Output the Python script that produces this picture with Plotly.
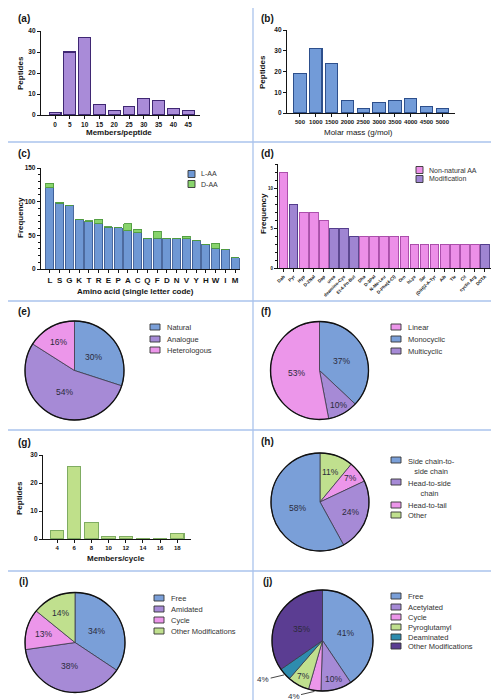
import math
import plotly.graph_objects as go

W, H = 499, 700

# ---------------- data ----------------
a_members = ["0", "5", "10", "15", "20", "25", "30", "35", "40", "45"]
a_peptides = [1, 30, 37, 5, 2, 4, 8, 7, 3, 2]

b_mass = ["500", "1000", "1500", "2000", "2500", "3000", "3500", "4000", "4500", "5000"]
b_peptides = [19, 31, 24, 6, 2, 5, 6, 7, 3, 2]

c_aa = ["L", "S", "G", "K", "T", "R", "E", "P", "A", "C", "Q", "F", "D", "N", "V", "Y", "H", "W", "I", "M"]
c_laa = [121, 98, 95, 73, 70, 67, 62, 61, 57, 54, 46, 46, 45, 45, 45, 42, 37, 31, 29, 17]
c_daa = [6, 1, 0, 1, 2, 7, 1, 0, 10, 5, 0, 10, 1, 1, 4, 1, 0, 7, 0, 0]

d_names = ["Dab", "Pyr", "Hyp", "D-2Nal", "Dap", "urea", "deamino-Cys", "Et-4-Pn-But",
           "Dha", "D-3Pal", "N-Me-Leu", "D-Phe(4-Cl)", "Orn", "hLys", "Sar", "(DIH)2-A-Tyr",
           "Aib", "Tle", "Cit", "cyclic Arg", "DOTA"]
d_freq = [12, 8, 7, 7, 6, 5, 5, 4, 4, 4, 4, 4, 4, 3, 3, 3, 3, 3, 3, 3, 3]
d_type = ["Non-natural AA", "Modification", "Non-natural AA", "Non-natural AA", "Non-natural AA",
          "Modification", "Modification", "Modification", "Non-natural AA", "Non-natural AA",
          "Non-natural AA", "Non-natural AA", "Non-natural AA", "Non-natural AA", "Non-natural AA",
          "Non-natural AA", "Non-natural AA", "Non-natural AA", "Non-natural AA", "Non-natural AA",
          "Modification"]

e_labels = ["Natural", "Analogue", "Heterologous"]
e_pct = [30, 54, 16]

f_labels = ["Monocyclic", "Multicyclic", "Linear"]
f_pct = [37, 10, 53]
f_legend = ["Linear", "Monocyclic", "Multicyclic"]

g_members = ["4", "6", "8", "10", "12", "14", "16", "18"]
g_peptides = [3, 26, 6, 1, 1, 0, 0, 2]

h_labels = ["Other", "Head-to-tail", "Head-to-side chain", "Side chain-to-side chain"]
h_pct = [11, 7, 24, 58]
h_legend = ["Side chain-to-side chain", "Head-to-side chain", "Head-to-tail", "Other"]
h_legend_text = ["Side chain-to-<br>side chain", "Head-to-side<br>chain", "Head-to-tail", "Other"]

i_labels = ["Free", "Amidated", "Cycle", "Other Modifications"]
i_pct = [34, 38, 13, 14]

j_labels = ["Free", "Acetylated", "Cycle", "Pyroglutamyl", "Deaminated", "Other Modifications"]
j_pct = [41, 10, 4, 7, 4, 35]

# ---------------- styling ----------------
FONT = "Liberation Sans, Arial, sans-serif"
BLUE = "#7a9fd8"
PURPLE = "#a68ad6"
PINK = "#ec96ea"
GREEN = "#c0e08e"
TEAL = "#2e8cae"
DPURPLE = "#5b3d92"
SEP = "#aac3ec"
AX = "#151515"

colors_e = {"Natural": BLUE, "Analogue": PURPLE, "Heterologous": PINK}
colors_f = {"Linear": PINK, "Monocyclic": BLUE, "Multicyclic": PURPLE}
colors_h = {"Side chain-to-side chain": BLUE, "Head-to-side chain": PURPLE,
            "Head-to-tail": PINK, "Other": GREEN}
colors_i = {"Free": BLUE, "Amidated": PURPLE, "Cycle": PINK, "Other Modifications": GREEN}
colors_j = {"Free": BLUE, "Acetylated": PURPLE, "Cycle": PINK, "Pyroglutamyl": GREEN,
            "Deaminated": TEAL, "Other Modifications": DPURPLE}
colors_d = {"Non-natural AA": "#ec8fe8", "Modification": "#9f85d2"}
edges_d = {"Non-natural AA": "#a548a5", "Modification": "#4b3585"}


def px(x):
    return x / W


def py(y):
    return 1 - y / H


fig = go.Figure()
shapes = []
annotations = []


def text(x, y, s, size=8, bold=False, angle=0, xanchor="center", yanchor="middle", color=AX):
    annotations.append(dict(x=px(x), y=py(y), xref="paper", yref="paper", text=s, showarrow=False,
                            textangle=angle, xanchor=xanchor, yanchor=yanchor,
                            font=dict(family=FONT, size=size, color=color,
                                      weight="bold" if bold else "normal")))


def axes(n, x0, x1, ytop, ybot, xrange, yrange, ticktext, ytickvals, xfont=6.5, yfont=6.5,
         tickangle=0, minor=None):
    sx = "" if n == 1 else str(n)
    xa = dict(domain=[px(x0), px(x1)], range=xrange, anchor="y" + sx, showline=True, linecolor=AX,
              linewidth=1.4, ticks="outside", ticklen=3, tickwidth=1, tickcolor=AX,
              tickvals=list(range(len(ticktext))), ticktext=ticktext, tickangle=tickangle,
              tickfont=dict(family=FONT, size=xfont, color=AX, weight="bold"),
              showgrid=False, zeroline=False, automargin=False, fixedrange=True)
    ya = dict(domain=[py(ybot), py(ytop)], range=yrange, anchor="x" + sx, showline=True,
              linecolor=AX, linewidth=1.4, ticks="outside", ticklen=3, tickwidth=1, tickcolor=AX,
              tickvals=ytickvals, tickfont=dict(family=FONT, size=yfont, color=AX, weight="bold"),
              showgrid=False, zeroline=False, automargin=False, fixedrange=True)
    if minor:
        ya["minor"] = dict(dtick=minor, ticks="outside", ticklen=2, tickcolor=AX, showgrid=False)
    fig.update_layout({"xaxis" + sx: xa, "yaxis" + sx: ya})
    return "x" + sx, "y" + sx


# ---------------- (a) ----------------
xa, ya = axes(1, 33, 192, 23, 107, [-0.95, 9.8], [0, 40], a_members, [0, 10, 20, 30, 40])
fig.add_bar(x=list(range(len(a_members))), y=a_peptides, xaxis=xa, yaxis=ya, width=0.8,
            marker=dict(color="#a98bd8", line=dict(color="#3f2773", width=1.1)), showlegend=False)
text(8, 11, "(a)", size=10, bold=True, xanchor="left")
text(12, 65, "Peptides", bold=True, angle=-90)
text(111, 124, "Members/peptide", bold=True)

# ---------------- (b) ----------------
xa, ya = axes(2, 279, 447, 22, 105, [-0.82, 9.8], [0, 40], b_mass, [0, 10, 20, 30, 40], xfont=6)
fig.add_bar(x=list(range(len(b_mass))), y=b_peptides, xaxis=xa, yaxis=ya, width=0.78,
            marker=dict(color="#729bd8", line=dict(color="#2d4f8c", width=1.1)), showlegend=False)
text(251, 11, "(b)", size=10, bold=True, xanchor="left")
text(255, 64, "Peptides", bold=True, angle=-90)
text(350, 124, "Molar mass (g/mol)", size=8)

# ---------------- (c) ----------------
xa, ya = axes(3, 33, 232, 160, 261, [-0.92, 19.5], [0, 150], c_aa, [0, 50, 100, 150], xfont=8,
              minor=10)
fig.add_bar(x=list(range(len(c_aa))), y=c_laa, xaxis=xa, yaxis=ya, width=0.82, name="L-AA",
            marker=dict(color="#6f98d4", line=dict(color="#3a5a94", width=0.9)), showlegend=False)
fig.add_bar(x=list(range(len(c_aa))), y=c_daa, xaxis=xa, yaxis=ya, width=0.82, name="D-AA",
            marker=dict(color="#88d46c", line=dict(color="#4f9a3e", width=0.9)), showlegend=False)
text(8, 145, "(c)", size=10, bold=True, xanchor="left")
text(12, 210, "Frequency", bold=True, angle=-90)
text(128, 283, "Amino acid (single letter code)", bold=True)

# ---------------- (d) ----------------
xa, ya = axes(4, 270, 483, 156, 260, [-0.55, 20.6], [0, 13], d_names, [0, 5, 10], xfont=4.5,
              yfont=4.5, tickangle=-45, minor=1)
fig.add_bar(x=list(range(len(d_names))), y=d_freq, xaxis=xa, yaxis=ya, width=0.86,
            marker=dict(color=[colors_d[t] for t in d_type],
                        line=dict(color=[edges_d[t] for t in d_type], width=0.9)), showlegend=False)
text(251, 145, "(d)", size=10, bold=True, xanchor="left")
text(255, 205, "Frequency", bold=True, angle=-90)

# ---------------- (g) ----------------
xa, ya = axes(5, 35, 183, 447, 531, [-0.82, 7.8], [0, 30], g_members, [0, 10, 20, 30], xfont=6)
fig.add_bar(x=list(range(len(g_members))), y=g_peptides, xaxis=xa, yaxis=ya, width=0.78,
            marker=dict(color="#bfe08a", line=dict(color="#7fac62", width=1.1)), showlegend=False)
text(8, 434, "(g)", size=10, bold=True, xanchor="left")
text(12, 490, "Peptides", bold=True, angle=-90)
text(108, 550, "Members/cycle", bold=True)


# ---------------- legends ----------------
def legend(xbox, rows, keys, cmap, labels=None, bw=10, bh=6, size=7.5, edge="#333", gap=5):
    labels = labels or keys
    for y, key, lab in zip(rows, keys, labels):
        shapes.append(dict(type="rect", xref="paper", yref="paper", x0=px(xbox), x1=px(xbox + bw),
                           y0=py(y + bh / 2), y1=py(y - bh / 2), fillcolor=cmap[key],
                           line=dict(color=edge, width=0.9)))
        if "<br>" in lab:
            text(xbox + bw + gap, y - 5.5, lab, size=size, xanchor="left", yanchor="top",
                 color="#333")
        else:
            text(xbox + bw + gap, y, lab, size=size, xanchor="left", color="#333")


legend(180, [166, 176], ["L-AA", "D-AA"], {"L-AA": "#6f98d4", "D-AA": "#88d46c"}, bw=7, bh=7,
       size=7, gap=4)
legend(408, [162, 171], ["Non-natural AA", "Modification"], colors_d, bw=7, bh=7, size=7, gap=4)


# ---------------- pies ----------------
def pie(labels, pct, cmap, cx, cy, r):
    fig.add_trace(go.Pie(labels=labels, values=pct, sort=False, direction="clockwise", rotation=0,
                         marker=dict(colors=[cmap[l] for l in labels],
                                     line=dict(color="#3a3a4a", width=0.8)),
                         textinfo="none", hoverinfo="label+value", showlegend=False,
                         domain=dict(x=[px(cx - r), px(cx + r)], y=[py(cy + r), py(cy - r)])))
    shapes.append(dict(type="circle", xref="paper", yref="paper", x0=px(cx - r), x1=px(cx + r),
                       y0=py(cy + r), y1=py(cy - r), line=dict(color="#111", width=1.3)))
    total = sum(pct)
    cum = 0
    mids = []
    for v in pct:
        mid = (cum + v / 2) / total * 2 * math.pi
        cum += v
        mids.append(mid)
    return mids


def pie_labels(pct, mids, cx, cy, r, skip=()):
    for k, (v, m) in enumerate(zip(pct, mids)):
        if k in skip:
            continue
        f = 0.48 if v >= 30 else (0.66 if v > 10 else 0.8)
        x = cx + f * r * math.sin(m)
        y = cy - f * r * math.cos(m)
        text(x, y, f"{v}%", size=8.5, color="#2b2b3b")


# (e)
m = pie(e_labels, e_pct, colors_e, 66.5, 362.5, 49.5)
pie_labels(e_pct, m, 66.5, 362.5, 49.5)
legend(142, [319, 331, 342], e_labels, colors_e)
text(8, 303, "(e)", size=10, bold=True, xanchor="left")

# (f)
m = pie(f_labels, f_pct, colors_f, 311.5, 362.5, 49)
pie_labels(f_pct, m, 311.5, 362.5, 49)
legend(383, [319, 331, 343], f_legend, colors_f)
text(251, 303, "(f)", size=10, bold=True, xanchor="left")

# (h)
m = pie(h_labels, h_pct, colors_h, 312, 494, 49)
pie_labels(h_pct, m, 312, 494, 49)
legend(383, [452, 474, 497, 507], h_legend, colors_h, labels=h_legend_text)
text(251, 433, "(h)", size=10, bold=True, xanchor="left")

# (i)
m = pie(i_labels, i_pct, colors_i, 67, 634.5, 50)
pie_labels(i_pct, m, 67, 634.5, 50)
legend(146, [590, 601, 612, 623], i_labels, colors_i)
text(9, 573, "(i)", size=10, bold=True, xanchor="left")

# (j)
jcx, jcy, jr = 314.5, 632.5, 50.5
m = pie(j_labels, j_pct, colors_j, jcx, jcy, jr)
small = [k for k, v in enumerate(j_pct) if v <= 4]
pie_labels(j_pct, m, jcx, jcy, jr, skip=small)
for k in small:
    ex = jcx + (jr + 1) * math.sin(m[k])
    ey = jcy - (jr + 1) * math.cos(m[k])
    annotations.append(dict(x=px(ex), y=py(ey), xref="paper", yref="paper", text=f"{j_pct[k]}%",
                            showarrow=True, arrowhead=0, arrowwidth=0.9, arrowcolor="#333",
                            ax=-21, ay=5, font=dict(family=FONT, size=8, color="#2b2b3b")))
legend(383, [588, 599, 609, 619, 629, 638], j_labels, colors_j)
text(253, 573, "(j)", size=10, bold=True, xanchor="left")

# ---------------- separators ----------------
for y in [134, 293, 422, 563]:
    shapes.append(dict(type="line", xref="paper", yref="paper", x0=0, x1=px(487), y0=py(y),
                       y1=py(y), line=dict(color=SEP, width=1.3), layer="below"))
shapes.append(dict(type="line", xref="paper", yref="paper", x0=px(245), x1=px(245), y0=0, y1=1,
                   line=dict(color=SEP, width=1.3), layer="below"))

fig.update_layout(width=W, height=H, margin=dict(l=0, r=0, t=0, b=0, autoexpand=False),
                  paper_bgcolor="white", plot_bgcolor="rgba(0,0,0,0)", barmode="stack",
                  shapes=shapes, annotations=annotations, showlegend=False,
                  font=dict(family=FONT))

fig.write_html("out.html")
